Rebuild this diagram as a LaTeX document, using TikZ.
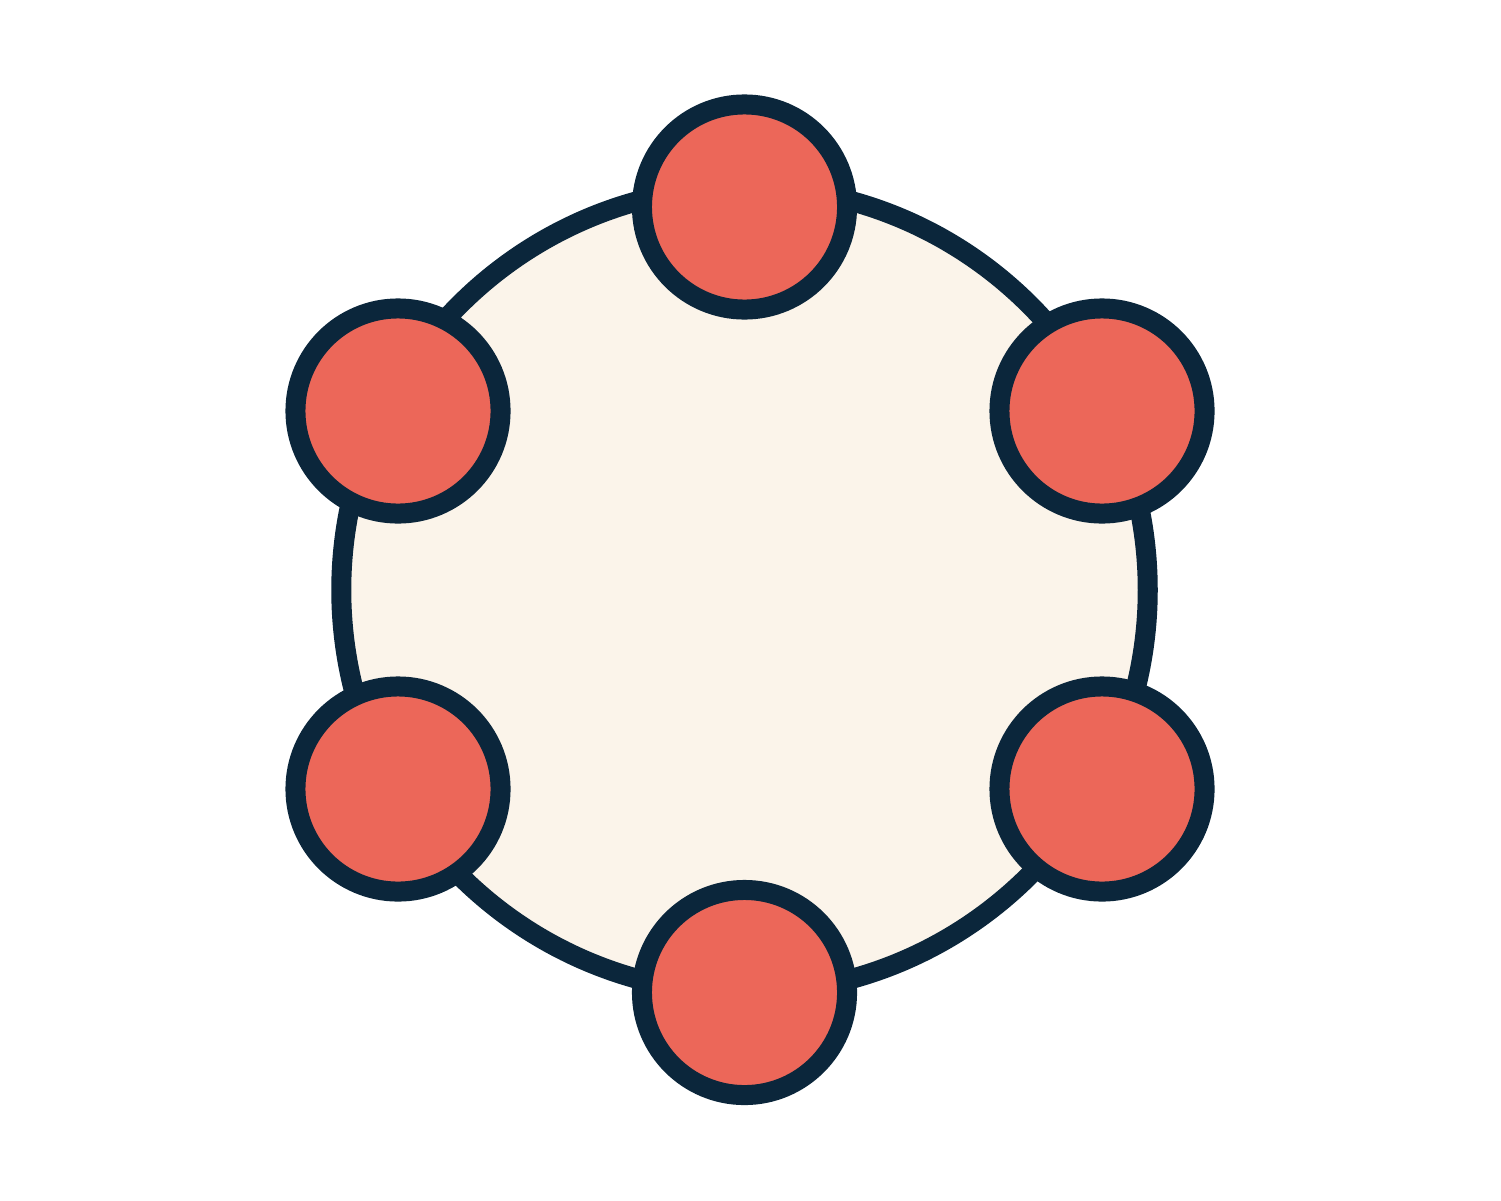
\documentclass[tikz,border=0pt]{standalone}
\usepackage{tikz}
\usetikzlibrary{positioning}
\definecolor{navy}{HTML}{0B263B}
\definecolor{coral}{HTML}{EC6759}
\definecolor{cream}{HTML}{FBF4EA}
\begin{document}
\begin{tikzpicture}[x=0.01cm,y=-0.01cm,
                ring/.style={circle,draw=navy,fill=cream,line width=0.2cm,minimum size=8.06cm,inner sep=0pt},
                atom/.style={circle,draw=navy,fill=coral,line width=0.2cm,minimum size=2.05cm,inner sep=0pt}] 
                \useasboundingbox (0,0) rectangle (1501,1200);
                \node[ring] (hub) at (744.5,590) {};
                \node[atom] (a_top) at (744.5,207) {};
                \node[atom] (a_ul) at (398,411) {};
                \node[atom] (a_ur) at (1102,411) {};
                \node[atom] (a_ll) at (398,789) {};
                \node[atom] (a_lr) at (1102,789) {};
                \node[atom] (a_bot) at (744.5,992.5) {};
            \end{tikzpicture}
\end{document}
